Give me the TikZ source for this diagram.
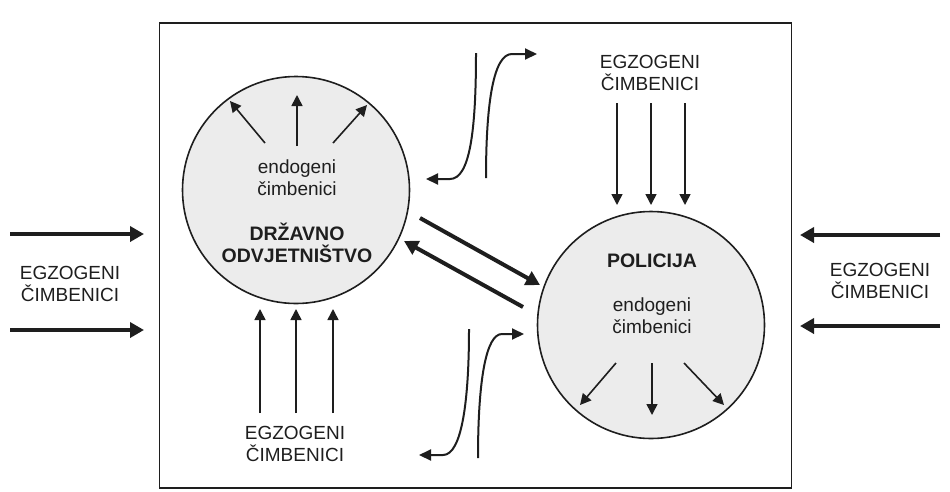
\documentclass[tikz,border=0pt]{standalone}
\usepackage{fontspec}
\setmainfont{Liberation Sans}
\usetikzlibrary{arrows.meta}
\definecolor{circfill}{RGB}{236,236,236}
\definecolor{ink}{RGB}{30,30,30}
\begin{document}
\begin{tikzpicture}[x=1pt,y=-1pt,
  lbl/.style={font=\fontsize{19}{22}\selectfont, align=center, inner sep=0pt, text=ink},
  blbl/.style={font=\fontsize{19.5}{22}\selectfont\bfseries, align=center, inner sep=0pt, text=ink},
  bigcirc/.style={circle, draw=ink, line width=1.6pt, fill=circfill, minimum size=227pt, inner sep=0pt},
  thin/.style={draw=ink, line width=1.6pt, -{Triangle[length=11pt,width=11pt]}},
  thick/.style={draw=ink, line width=4.5pt, -{Triangle[length=14pt,width=15pt]}},
  curvy/.style={draw=ink, line width=2pt, -{Triangle[length=12pt,width=11pt]}}]
\useasboundingbox (0,0) rectangle (950,491);
\node[draw=ink, line width=1.8pt, minimum width=632pt, minimum height=465pt, inner sep=0pt] (frame) at (475.5,255.5) {};
\node[bigcirc] (do) at (296,190) {};
\node[bigcirc] (po) at (651,325) {};
% left circle texts
\node[lbl] (doendo) at (297,178) {endogeni\\čimbenici};
\node[blbl] (dotitle) at (297,243) {DRŽAVNO\\ODVJETNIŠTVO};
% right circle texts
\node[blbl] (potitle) at (652,261) {POLICIJA};
\node[lbl] (poendo) at (652,316) {endogeni\\čimbenici};
% exogenous labels
\node[lbl] (exL) at (70,284) {EGZOGENI\\ČIMBENICI};
\node[lbl] (exR) at (880,281) {EGZOGENI\\ČIMBENICI};
\node[lbl] (exT) at (650,73) {EGZOGENI\\ČIMBENICI};
\node[lbl] (exB) at (295,444) {EGZOGENI\\ČIMBENICI};
% coordinates
\coordinate (l1s) at (10,234); \coordinate (l1e) at (144,234);
\coordinate (l2s) at (10,330); \coordinate (l2e) at (144,330);
\coordinate (r1s) at (940,235); \coordinate (r1e) at (800,235);
\coordinate (r2s) at (940,326); \coordinate (r2e) at (800,326);
\coordinate (t1s) at (617,103); \coordinate (t1e) at (617,205);
\coordinate (t2s) at (651,103); \coordinate (t2e) at (651,205);
\coordinate (t3s) at (685,103); \coordinate (t3e) at (685,205);
\coordinate (b1s) at (260,413); \coordinate (b1e) at (260,309);
\coordinate (b2s) at (296,413); \coordinate (b2e) at (296,309);
\coordinate (b3s) at (333,413); \coordinate (b3e) at (333,309);
\coordinate (da1s) at (265,143); \coordinate (da1e) at (230,101);
\coordinate (da2s) at (297,146); \coordinate (da2e) at (297,95);
\coordinate (da3s) at (333,143); \coordinate (da3e) at (367,105);
\coordinate (pa1s) at (616,363); \coordinate (pa1e) at (580,405);
\coordinate (pa2s) at (652,363); \coordinate (pa2e) at (652,415);
\coordinate (pa3s) at (684,363); \coordinate (pa3e) at (724,405);
\coordinate (d1s) at (420,218); \coordinate (d1e) at (540,285);
\coordinate (d2s) at (523,307); \coordinate (d2e) at (404,241);
\coordinate (c1s) at (476,53); \coordinate (c1e) at (426,179);
\coordinate (c2s) at (486,178); \coordinate (c2e) at (537,54);
\coordinate (c3s) at (469,329); \coordinate (c3e) at (419,455);
\coordinate (c4s) at (478,458); \coordinate (c4e) at (524,334);
% external thick arrows
\draw[thick] (l1s) -- (l1e);
\draw[thick] (l2s) -- (l2e);
\draw[thick] (r1s) -- (r1e);
\draw[thick] (r2s) -- (r2e);
% top / bottom exogenous arrows
\foreach \n in {t1,t2,t3,b1,b2,b3} \draw[thin] (\n s) -- (\n e);
% inner arrows
\foreach \n in {da1,da2,da3,pa1,pa2,pa3} \draw[thin] (\n s) -- (\n e);
% diagonal arrows between circles
\draw[thick, line width=4pt] (d1s) -- (d1e);
\draw[thick, line width=4pt] (d2s) -- (d2e);
% curved arrows
\draw[curvy] (c1s) .. controls (476,130) and (470,179) .. (450,179) -- (c1e);
\draw[curvy] (c2s) .. controls (486,100) and (494,54) .. (512,54) -- (c2e);
\draw[curvy] (c3s) .. controls (469,400) and (462,455) .. (443,455) -- (c3e);
\draw[curvy] (c4s) .. controls (478,380) and (486,334) .. (502,334) -- (c4e);
\end{tikzpicture}
\end{document}
